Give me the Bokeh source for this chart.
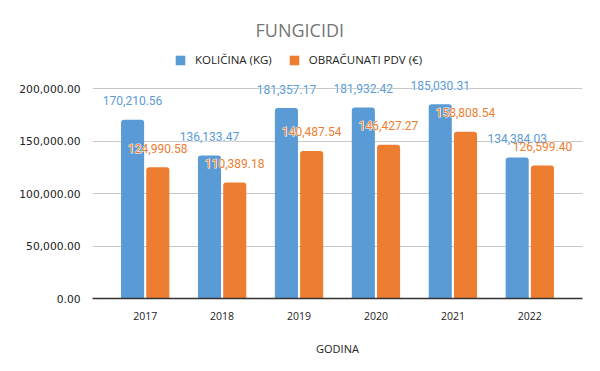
from bokeh.plotting import figure
from bokeh.models import (Range1d, FixedTicker, Legend, LegendItem, ColumnDataSource,
                          Title, NumeralTickFormatter)
from bokeh.transform import dodge
from bokeh.core.properties import value
from bokeh.embed import file_html
from bokeh.resources import INLINE

# ---- data ----
years = ["2017", "2018", "2019", "2020", "2021", "2022"]
kolicina = [170210.56, 136133.47, 181357.17, 181932.42, 185030.31, 134384.03]
pdv = [124990.58, 110389.18, 140487.54, 146427.27, 158808.54, 126599.40]
y_ticks = [0, 50000, 100000, 150000, 200000]
series_names = ["KOLIČINA (KG)", "OBRAČUNATI PDV (€)"]
title_text = "FUNGICIDI"
x_label = "GODINA"

BLUE = "#5B9BD5"
ORANGE = "#ED7D31"

idx = list(range(len(years)))
src = ColumnDataSource(dict(
    idx=idx,
    kol=kolicina,
    pdv=pdv,
    kol_lbl=[f"{v:,.2f}" for v in kolicina],
    pdv_lbl=[f"{v:,.2f}" for v in pdv],
))

p = figure(width=600, height=371, output_backend="svg", toolbar_location=None,
           x_range=Range1d(-0.685, len(years) - 1 + 0.685),
           y_range=Range1d(0, 234286),
           min_border_left=92, min_border_right=18, min_border_top=52, min_border_bottom=73)
p.outline_line_color = None
p.background_fill_color = "white"
p.border_fill_color = "white"

off = 0.164
bw = 0.30
r1 = p.vbar(x=dodge("idx", -off, range=p.x_range), top="kol", width=bw, source=src,
            fill_color=BLUE, line_color=None, border_radius=(3, 3, 0, 0))
r2 = p.vbar(x=dodge("idx", off, range=p.x_range), top="pdv", width=bw, source=src,
            fill_color=ORANGE, line_color=None, border_radius=(3, 3, 0, 0))

label_kw = dict(source=src, text_align="center", text_baseline="middle", y_offset=-19,
                text_font=value("Roboto"), text_font_size="12px")
# white halo layers, then coloured labels on top
p.text(x=dodge("idx", -off, range=p.x_range), y="kol", text="kol_lbl",
       text_color="white", text_outline_color="white", **label_kw)
p.text(x=dodge("idx", off, range=p.x_range), y="pdv", text="pdv_lbl",
       text_color="white", text_outline_color="white", **label_kw)
p.text(x=dodge("idx", -off, range=p.x_range), y="kol", text="kol_lbl",
       text_color=BLUE, **label_kw)
p.text(x=dodge("idx", off, range=p.x_range), y="pdv", text="pdv_lbl",
       text_color=ORANGE, **label_kw)

# axes
p.yaxis.ticker = FixedTicker(ticks=y_ticks)
p.yaxis.formatter = NumeralTickFormatter(format="0,0.00")
p.yaxis.axis_line_color = None
p.yaxis.major_tick_line_color = None
p.yaxis.minor_tick_line_color = None
p.yaxis.major_label_text_font = "DejaVu Sans"
p.yaxis.major_label_text_font_size = "10.7px"
p.yaxis.major_label_text_color = "#222222"
p.yaxis.major_label_standoff = 6

p.xaxis.ticker = FixedTicker(ticks=idx)
p.xaxis.major_label_overrides = {i: y for i, y in zip(idx, years)}
p.xaxis.axis_line_color = "#333333"
p.xaxis.axis_line_width = 1.3
p.xaxis.major_tick_line_color = None
p.xaxis.minor_tick_line_color = None
p.xaxis.major_label_text_font = "Open Sans"
p.xaxis.major_label_text_font_size = "10.5px"
p.xaxis.major_label_text_color = "#222222"
p.xaxis.major_label_standoff = 7
p.xaxis.axis_label = x_label
p.xaxis.axis_label_text_font = "Open Sans"
p.xaxis.axis_label_text_font_size = "11px"
p.xaxis.axis_label_text_font_style = "normal"
p.xaxis.axis_label_text_color = "#222222"
p.xaxis.axis_label_standoff = 18

p.xgrid.grid_line_color = None
p.ygrid.grid_line_color = "#C8C8C8"
p.ygrid.grid_line_width = 1

legend = Legend(items=[LegendItem(label=series_names[0], renderers=[r1]),
                       LegendItem(label=series_names[1], renderers=[r2])],
                orientation="horizontal", location=(82, 231),
                glyph_width=12, glyph_height=12, label_standoff=9, spacing=16,
                padding=0, margin=0, border_line_color=None,
                label_text_font="Open Sans", label_text_font_size="11.5px",
                label_text_color="#222222", background_fill_alpha=0)
p.add_layout(legend)

t = Title(text=title_text, align="left", offset=163, standoff=22, text_font="Open Sans",
          text_font_size="18px", text_font_style="normal", text_color="#757575")
p.add_layout(t, "above")

open("out.html", "w").write(file_html(p, INLINE))
